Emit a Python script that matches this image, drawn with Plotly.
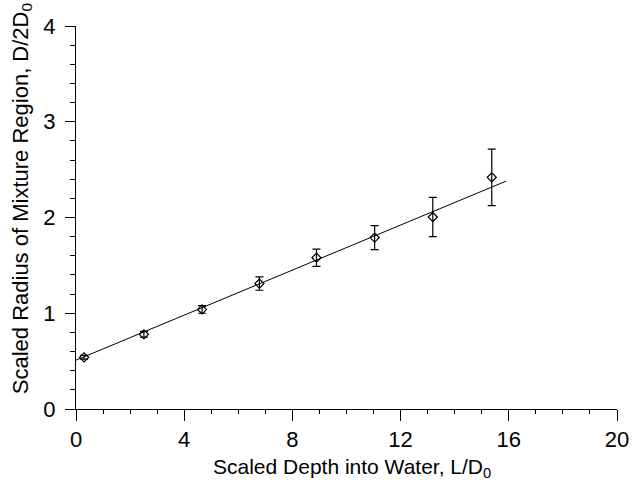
import plotly.graph_objects as go

depth = [0.3, 2.51, 4.66, 6.78, 8.89, 11.04, 13.19, 15.37]
radius = [0.54, 0.78, 1.04, 1.31, 1.58, 1.79, 2.005, 2.42]
err = [0.02, 0.03, 0.04, 0.07, 0.09, 0.125, 0.205, 0.295]
fit_x = [0.0, 15.9]
fit_y = [0.51, 2.38]

fig = go.Figure()
fig.add_trace(go.Scatter(x=fit_x, y=fit_y, mode="lines",
                         line=dict(color="black", width=1), showlegend=False))
fig.add_trace(go.Scatter(x=depth, y=radius, mode="markers",
                         marker=dict(symbol="diamond-open", size=7, color="black",
                                     line=dict(width=1.2, color="black")),
                         error_y=dict(type="data", array=err, visible=True,
                                      color="black", thickness=1.2, width=4),
                         showlegend=False))

font = "Liberation Sans, Arial, Helvetica, sans-serif"
fig.update_layout(
    width=641, height=481,
    margin=dict(l=76, r=15, t=26, b=72),
    plot_bgcolor="white", paper_bgcolor="white",
    font=dict(family=font, color="black", size=22),
    xaxis=dict(range=[0, 20], dtick=4, tick0=0, showgrid=False, zeroline=False,
               showline=True, linecolor="black", linewidth=1,
               ticks="outside", ticklen=11, tickwidth=1, tickcolor="black",
               minor=dict(ticks="outside", ticklen=4, dtick=1, tickcolor="black"),
               tickfont=dict(size=22)),
    yaxis=dict(range=[0, 4], dtick=1, tick0=0, showgrid=False, zeroline=False,
               showline=True, linecolor="black", linewidth=1,
               ticks="outside", ticklen=10, tickwidth=1, tickcolor="black",
               minor=dict(ticks="outside", ticklen=5, dtick=0.2, tickcolor="black"),
               tickfont=dict(size=22), ticklabelstandoff=5),
)
fig.add_annotation(text="Scaled Depth into Water, L/D<sub>0</sub>",
                   xref="paper", yref="paper", x=0.51, y=-0.155,
                   xanchor="center", yanchor="middle",
                   showarrow=False, font=dict(size=21))
fig.add_annotation(text="Scaled Radius of Mixture Region, D/2D<sub>0</sub>",
                   textangle=-90, xref="paper", yref="paper",
                   x=-0.1, y=0.55, xanchor="center", yanchor="middle",
                   showarrow=False, font=dict(size=22))
fig.write_html("out.html", config={"displayModeBar": False},
               post_script="document.body.style.margin='0';document.body.style.overflow='hidden';")
